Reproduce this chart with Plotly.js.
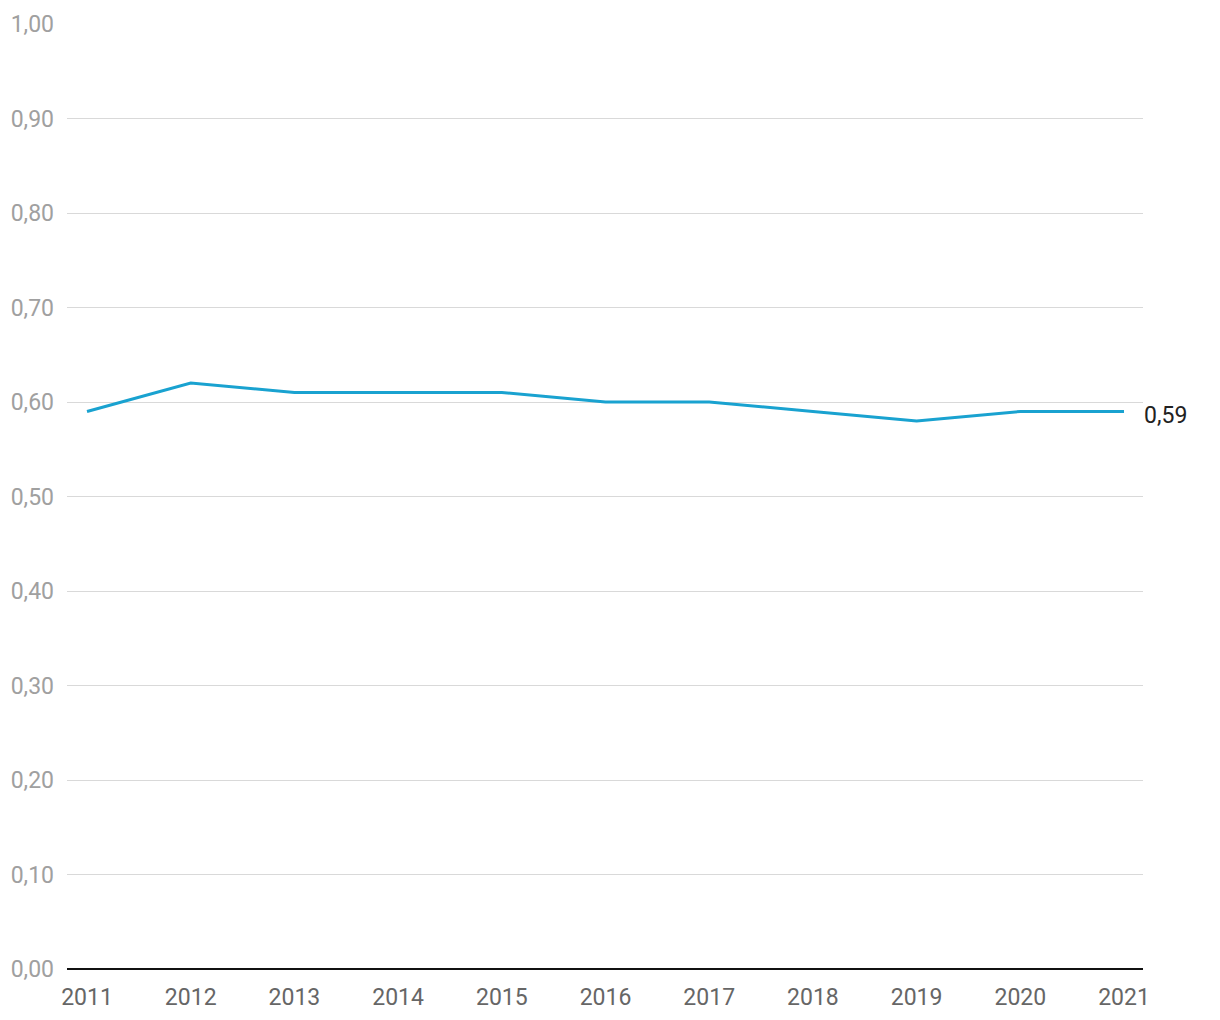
<!DOCTYPE html>
<html><head><meta charset="utf-8">
<script src="https://cdn.plot.ly/plotly-3.0.1.min.js"></script>
<style>body{margin:0;background:#fff}#chart{width:1220px;height:1020px}</style>
</head><body><div id="chart"></div>
<script>
const years = [2011,2012,2013,2014,2015,2016,2017,2018,2019,2020,2021];
const values = [0.59,0.62,0.61,0.61,0.61,0.60,0.60,0.59,0.58,0.59,0.59];
const lastLabel = "0,59";

Plotly.newPlot('chart', [{
  x: years, y: values, type: 'scatter', mode: 'lines',
  line: {color: '#19a2d0', width: 3}, hoverinfo: 'skip'
}], {
  width: 1220, height: 1020,
  margin: {l: 67, r: 77, t: 24, b: 51},
  paper_bgcolor: '#fff', plot_bgcolor: '#fff',
  separators: ',.',
  showlegend: false,
  font: {family: 'Roboto, sans-serif', size: 23},
  xaxis: {
    range: [2010.807, 2021.183], tickvals: years, ticktext: years.map(String),
    showgrid: false, zeroline: false, showline: false, ticks: '',
    tickfont: {color: '#666', size: 23}, ticklabelstandoff: 12
  },
  yaxis: {
    range: [0, 1], dtick: 0.1, tick0: 0, tickformat: '.2f',
    showgrid: true, gridcolor: '#d9d9d9', gridwidth: 1,
    zeroline: true, zerolinecolor: '#111', zerolinewidth: 2,
    ticks: '', tickfont: {color: '#a0a0a0', size: 23}, ticklabelstandoff: 12
  },
  annotations: [{
    x: years[years.length-1], y: values[values.length-1], xref: 'x', yref: 'y',
    text: lastLabel, showarrow: false, xanchor: 'left', yanchor: 'middle',
    xshift: 18, yshift: -4, font: {color: '#222', size: 23}
  }]
}, {staticPlot: true});
</script></body></html>
